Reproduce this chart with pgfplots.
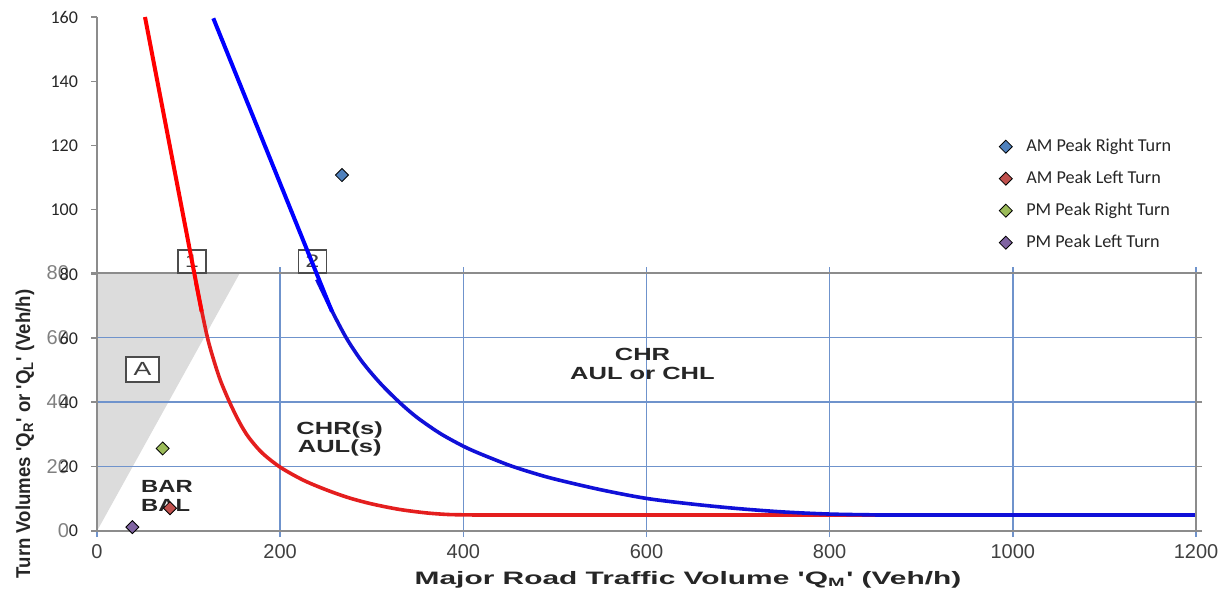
\documentclass[border=0pt]{standalone}
\usepackage{fontspec}
\usepackage{graphicx}
\usepackage{pgfplots}
\pgfplotsset{compat=1.18}
\setmainfont{Liberation Sans}
\newfontfamily\calibri{Carlito}
\definecolor{gridblue}{HTML}{6F93CC}
\definecolor{framegray}{HTML}{8C8C8C}
\definecolor{tri}{HTML}{DCDCDC}
\definecolor{innerred}{HTML}{E41E1E}
\definecolor{innerblue}{HTML}{1010D8}
\definecolor{amright}{HTML}{4F81BD}
\definecolor{amleft}{HTML}{C0504D}
\definecolor{pmright}{HTML}{9BBB59}
\definecolor{pmleft}{HTML}{8064A2}
\newcommand{\q}{\textquotesingle}
\begin{document}
\begin{tikzpicture}
\useasboundingbox (-48.5pt,-32.5pt) rectangle (567.5pt,265.5pt);
% shaded region of the warrant chart
\begin{axis}[at={(0,0)},anchor=south west,scale only axis,width=549.5pt,height=129pt,
  xmin=0,xmax=1200,ymin=0,ymax=80,hide axis]
\addplot[fill=tri,draw=none] coordinates {(0,0) (0,80) (156,80) (0,0)} -- cycle;
\end{axis}
% warrant chart (inner)
\begin{axis}[at={(0,0)},anchor=south west,scale only axis,width=549.5pt,height=129pt,
  xmin=0,xmax=1200,ymin=0,ymax=80,
  xtick={0,200,...,1200},ytick={0,20,...,80},
  grid=major,major grid style={draw=gridblue,line width=0.7pt},
  axis line style={draw=framegray,line width=0.8pt},
  tick align=outside,major tick length=3pt,
  xtick style={draw=gridblue,line width=0.7pt},ytick style={draw=framegray,line width=0.6pt},
  tick label style={font=\fontsize{10}{12}\selectfont},
  xticklabel style={text=black!75},
  yticklabel style={text=black!50,xshift=-7.5pt},
  /pgf/number format/1000 sep={},
  /pgf/number format/assume math mode=true,
  clip=false]
\addplot[innerred,line width=1.8pt,smooth] coordinates {
 (108,77) (114.3,68.3) (121,59.5) (128,52.5) (135,46.5) (145,39.8) (155,34) (165,29.3)
 (180,24.3) (200,19.8) (225,15.8) (250,12.8) (275,10.3) (300,8.4) (330,6.7) (360,5.6) (385,5.1) (410,5)};
\addplot[innerred,line width=1.8pt] coordinates {(410,5) (1200,5)};
\addplot[innerblue,line width=1.8pt,smooth] coordinates {
 (240,78) (257,68) (273,59.5) (290,52.3) (310,45.6) (331,39.7) (350,35.1) (375,30.2) (400,26.3)
 (418,24.0) (450,20.4) (475,18.1) (500,16.1) (550,12.8) (600,10.1) (650,8.35) (700,6.95)
 (750,5.9) (800,5.25) (850,5.0)};
\addplot[innerblue,line width=1.8pt] coordinates {(850,5) (1200,5)};
\draw[framegray,line width=0.8pt] (rel axis cs:0,0) rectangle (rel axis cs:1,1);
\node[font=\bfseries\fontsize{8.8}{9.3}\selectfont,align=center,text=black!85] at (axis cs:265,28.5)
  {\scalebox{1.45}[1]{CHR(s)}\\\scalebox{1.45}[1]{AUL(s)}};
\node[font=\bfseries\fontsize{8.8}{9.3}\selectfont,align=center,text=black!85] at (axis cs:595.6,51.8)
  {\scalebox{1.45}[1]{CHR}\\\scalebox{1.45}[1]{AUL or CHL}};
\node[font=\bfseries\fontsize{8.8}{9.8}\selectfont,align=left,text=black!85] at (axis cs:76.4,10.9)
  {\scalebox{1.35}[1]{BAR}\\\scalebox{1.35}[1]{BAL}};
\node[draw=black!70,line width=0.9pt,fill=white,minimum width=14pt,minimum height=11.5pt,inner sep=0pt,
  font=\fontsize{9}{10}\selectfont,text=black!75] at (axis cs:103.7,83.6) {\scalebox{1.4}[1]{1}};
\node[draw=black!70,line width=0.9pt,fill=white,minimum width=14pt,minimum height=11.5pt,inner sep=0pt,
  font=\fontsize{9}{10}\selectfont,text=black!75] at (axis cs:235.3,83.6) {\scalebox{1.4}[1]{2}};
\node[draw=black!70,line width=0.9pt,fill=white,minimum width=16.5pt,minimum height=12.5pt,inner sep=0pt,
  font=\fontsize{9.5}{10}\selectfont,text=black!75] at (axis cs:49.7,50.1) {\scalebox{1.4}[1]{A}};
\end{axis}
% Excel chart (outer)
\begin{axis}[at={(0,0)},anchor=south west,scale only axis,width=549.5pt,height=257pt,
  xmin=0,xmax=1200,ymin=0,ymax=160,
  axis x line=none,axis y line*=left,ytick={0,20,...,160},
  y axis line style={draw=framegray,line width=0.8pt},
  tick align=outside,major tick length=3pt,ytick style={draw=framegray,line width=0.6pt},
  yticklabel style={font=\calibri\fontsize{9}{10}\selectfont,text=black!85,xshift=-3pt},
  /pgf/number format/assume math mode=true,
  legend style={draw=none,fill=none,at={(0.8152,0.7782)},anchor=north west,
    font=\calibri\fontsize{9.1}{10}\selectfont,text=black!85,
    nodes={inner sep=1.5pt,text height=6.5pt,text depth=1.8pt},row sep=4.7pt,
    /tikz/every odd column/.append style={column sep=5.5pt}},
  legend cell align=left,
  clip=false]
\addplot[red,line width=2pt,forget plot] coordinates {(52.4,160) (114.3,68.3)};
\addplot[blue,line width=2pt,forget plot] coordinates {(127,159.6) (256.6,68.3)};
\addplot[only marks,mark=square*,mark size=2.3pt,mark options={rotate=45,fill=amright,draw=black,line width=0.4pt}]
  coordinates {(267.5,110.8)};
\addlegendentry{AM Peak Right Turn}
\addplot[only marks,mark=square*,mark size=2.3pt,mark options={rotate=45,fill=amleft,draw=black,line width=0.4pt}]
  coordinates {(79.7,7.1)};
\addlegendentry{AM Peak Left Turn}
\addplot[only marks,mark=square*,mark size=2.3pt,mark options={rotate=45,fill=pmright,draw=black,line width=0.4pt}]
  coordinates {(71.7,25.7)};
\addlegendentry{PM Peak Right Turn}
\addplot[only marks,mark=square*,mark size=2.3pt,mark options={rotate=45,fill=pmleft,draw=black,line width=0.4pt}]
  coordinates {(38.6,1.2)};
\addlegendentry{PM Peak Left Turn}
\end{axis}
\node[font=\bfseries\fontsize{9}{10}\selectfont,text=black!85] at (295.5pt,-24.5pt)
  {\scalebox{1.66}[1]{Major Road Traffic Volume \q Q\textsubscript{M}\q{} (Veh/h)}};
\node[rotate=90,font=\bfseries\fontsize{10}{11}\selectfont,text=black!85] at (-36pt,48.5pt)
  {\scalebox{0.93}[1]{Turn Volumes \q Q\textsubscript{R}\q{} or \q Q\textsubscript{L}\q{} (Veh/h)}};
\end{tikzpicture}
\end{document}
